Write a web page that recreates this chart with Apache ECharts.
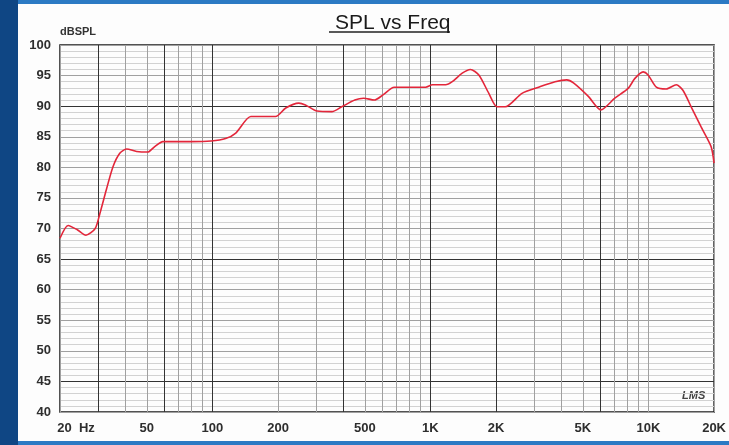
<!DOCTYPE html>
<html><head><meta charset="utf-8">
<script src="https://cdn.jsdelivr.net/npm/echarts@6/dist/echarts.min.js"></script>
<style>
html,body{margin:0;padding:0;width:729px;height:445px;overflow:hidden;background:#2c7ac4;}
#left{position:absolute;left:0;top:0;width:18px;height:445px;background:#0f4684;}
#panel{position:absolute;left:18px;top:4px;width:711px;height:437px;background:#fdfdfd;}
#chart{position:absolute;left:0;top:0;width:729px;height:445px;}
</style></head><body>
<div id="left"></div><div id="panel"></div><div id="chart"></div>
<script>
// Frequency response (Hz) and SPL (dB)
const freqHz = [20, 21.8, 24, 26.3, 29, 30.5, 32.6, 35, 37.6, 40.4, 44.9, 50.6, 54.4, 59.3, 65.6, 80, 98.6,
  115, 128, 150, 169, 195, 217, 249, 267, 302, 353, 392, 450, 494, 553, 604, 682, 771, 951, 1021,
  1174, 1259, 1399, 1526, 1668, 1853, 2021, 2205, 2630, 3133, 3732, 4220, 4529, 5300, 6052, 7010,
  8072, 8651, 9452, 9963, 10870, 12070, 13420, 14390, 15700, 17440, 19370, 20000];
const splDb = [68.4, 70.5, 69.8, 68.9, 70.0, 72.5, 76.3, 80.1, 82.3, 83.0, 82.6, 82.5, 83.4, 84.2, 84.2, 84.2, 84.3,
  84.7, 85.6, 88.3, 88.3, 88.3, 89.7, 90.5, 90.2, 89.2, 89.1, 89.9, 91.0, 91.3, 91.0, 91.8, 93.1, 93.1, 93.1, 93.5,
  93.5, 94.0, 95.4, 96.0, 95.1, 92.1, 89.9, 89.9, 92.1, 93.1, 94.0, 94.3, 93.8, 91.6, 89.4, 91.3,
  92.9, 94.5, 95.6, 95.1, 93.1, 92.8, 93.5, 92.6, 89.9, 86.6, 83.4, 80.7];
const xLabelFreqs = [20, 50, 100, 200, 500, 1000, 2000, 5000, 10000, 20000];
const xLabelTexts = ['20  Hz', '50', '100', '200', '500', '1K', '2K', '5K', '10K', '20K'];
const yMin = 40, yMax = 100, yStep = 5;
const darkFreqs = [30, 60, 100, 400, 1000, 2000, 6000];
const darkDb = [45, 65, 90];

// log-decade grid frequencies
const gridFreqs = [];
for (let d = 10; d <= 10000; d *= 10) {
  for (let m = 1; m <= 9; m++) {
    const f = m * d;
    if (f >= 20 && f <= 20000) gridFreqs.push(f);
  }
}
gridFreqs.push(20000);
const lg = v => Math.log10(v);
const xGridColors = gridFreqs.map(f => darkFreqs.includes(f) ? '#333' : '#a0a0a0');
const yGridColors = [];
for (let v = yMin; v <= yMax; v += yStep) yGridColors.push(darkDb.includes(v) ? '#333' : '#a0a0a0');

const chart = echarts.init(document.getElementById('chart'), null, {renderer: 'canvas'});
const font = 'Liberation Sans, Arial, sans-serif';
chart.setOption({
  animation: false,
  backgroundColor: 'transparent',
  title: {
    text: 'SPL vs Freq', left: 330, top: 8,
    textStyle: {fontFamily: font, fontSize: 21, fontWeight: 'normal', color: '#1a1a1a'}
  },
  graphic: [
    {type: 'line', shape: {x1: 329, y1: 32, x2: 450, y2: 32}, style: {stroke: '#222', lineWidth: 1.5}},
    {type: 'text', left: 682, top: 390, style: {text: 'LMS', fontFamily: font, fontSize: 11, fontStyle: 'italic', fontWeight: 'bold', fill: '#444'}}
  ],
  grid: {left: 60, right: 12, top: 45, bottom: 33, show: true, borderColor: '#1a1a1a', borderWidth: 1.5, backgroundColor: 'transparent'},
  xAxis: {
    type: 'value', min: lg(20), max: lg(20000),
    axisLine: {show: false},
    axisTick: {show: false, customValues: gridFreqs.map(lg)},
    axisLabel: {
      customValues: xLabelFreqs.map(lg),
      margin: 10,
      fontFamily: font, fontSize: 13, fontWeight: 'bold', color: '#2e2e2e',
      formatter: function (v) {
        let idx = 0, best = 1e9;
        xLabelFreqs.forEach((f, i) => { const d = Math.abs(lg(f) - v); if (d < best) { best = d; idx = i; } });
        return idx === 0 ? '{a|' + xLabelTexts[0] + '}' : xLabelTexts[idx];
      },
      rich: {a: {fontFamily: font, fontSize: 13, fontWeight: 'bold', color: '#2e2e2e', padding: [0, 0, 0, 32]}}
    },
    splitLine: {show: true, lineStyle: {color: xGridColors, width: 1}}
  },
  yAxis: {
    type: 'value', min: yMin, max: yMax, interval: yStep,
    name: 'dBSPL', nameLocation: 'end', nameGap: 8,
    nameTextStyle: {align: 'left', verticalAlign: 'bottom', fontFamily: font, fontSize: 11, fontWeight: 'bold', color: '#333'},
    axisLine: {show: false},
    axisTick: {show: false},
    axisLabel: {margin: 9, fontFamily: font, fontSize: 13, fontWeight: 'bold', color: '#2e2e2e'},
    splitLine: {show: true, lineStyle: {color: yGridColors, width: 1}},
    minorTick: {show: false, splitNumber: 5},
    minorSplitLine: {show: true, lineStyle: {color: '#d2d2d2', width: 1}}
  },
  series: [{
    type: 'line',
    data: freqHz.map((f, i) => [lg(f), splDb[i]]),
    showSymbol: false,
    smooth: 0.25,
    lineStyle: {color: '#e3263a', width: 1.6},
    z: 5
  }]
});
</script>
</body></html>
